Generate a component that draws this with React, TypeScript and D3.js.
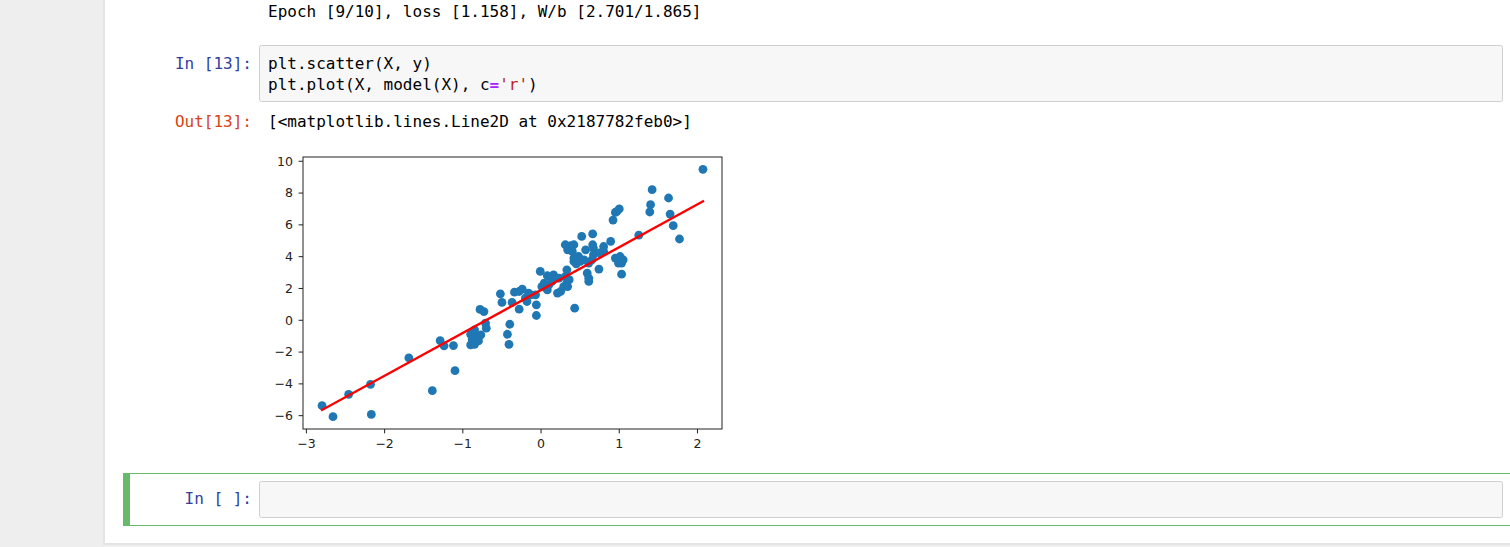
import React from "react";
import * as d3 from "d3";

// Scatter data (X, y)
const X_VALUES = [
  -2.80, -2.66, -2.46, -2.18, -2.17, -1.69, -1.39, -1.29, -1.24, -1.12, -1.10,
  -0.90, -0.88, -0.90, -0.85, -0.84, -0.79, -0.85, -0.80, -0.77, -0.78, -0.73, -0.71, -0.70,
  -0.52, -0.50, -0.40, -0.43, -0.41, -0.34, -0.28, -0.24, -0.37, -0.28, -0.20, -0.16, -0.13,
  -0.07, -0.06, -0.06, -0.18, -0.01, 0.01, 0.04, 0.08, 0.08, 0.10, 0.14, 0.16, 0.14, 0.21,
  0.23, 0.25, 0.29, 0.31, 0.33, 0.36, 0.33, 0.34, 0.43, 0.31, 0.38, 0.42, 0.34, 0.40, 0.42,
  0.48, 0.50, 0.42, 0.55, 0.45, 0.52, 0.66, 0.57, 0.66, 0.67, 0.67, 0.65, 0.61, 0.59, 0.61,
  0.61, 0.74, 0.80, 0.89, 0.80, 0.75, 0.92, 0.95, 0.97, 1.00, 0.95, 1.01, 1.05, 1.03, 0.99,
  1.03, 1.25, 1.39, 1.40, 1.42, 1.63, 1.65, 1.69, 1.77, 2.07,
];
const Y_VALUES = [
  -5.37, -6.06, -4.66, -4.03, -5.92, -2.37, -4.43, -1.28, -1.61, -1.59, -3.17,
  -0.88, -1.20, -1.55, -1.51, -1.05, -0.98, -0.60, -1.30, -0.92, 0.68, 0.55, -0.18, -0.50,
  1.66, 1.12, -0.25, -0.88, -1.51, 1.77, 1.81, 1.96, 1.12, 0.70, 1.39, 1.71, 1.60,
  1.60, 0.97, 0.30, 1.18, 3.07, 2.12, 2.34, 1.91, 2.80, 2.23, 2.65, 2.86, 2.44, 1.71,
  2.65, 1.81, 2.12, 2.75, 2.34, 2.55, 3.17, 2.12, 0.76, 4.75, 4.69, 4.75, 4.43, 4.33, 3.91,
  4.01, 3.70, 3.70, 3.80, 3.55, 5.27, 5.43, 4.43, 4.75, 4.54, 4.12, 3.80, 3.60, 2.97, 2.65,
  2.44, 3.22, 4.64, 4.96, 4.33, 4.23, 6.30, 6.78, 6.85, 7.00, 3.91, 4.01, 3.80, 3.60, 3.60,
  2.90, 5.35, 6.81, 7.27, 8.21, 7.69, 6.68, 5.95, 5.11, 9.49,
];

// Fitted line model(X)
const LINE_X = [-2.80, 2.07];
const LINE_Y = [-5.64, 7.48];

const X_TICKS = [-3, -2, -1, 0, 1, 2];
const Y_TICKS = [-6, -4, -2, 0, 2, 4, 6, 8, 10];

const MONO = "'DejaVu Sans Mono', monospace";
const SANS = "'DejaVu Sans', sans-serif";

function pad(ext: [number, number]): [number, number] {
  const r = ext[1] - ext[0];
  return [ext[0] - 0.05 * r, ext[1] + 0.05 * r];
}

export default function App() {
  const left = 303, right = 722, top = 157, bottom = 429;
  const xDom = pad(d3.extent(X_VALUES) as [number, number]);
  const yDom = pad(d3.extent(Y_VALUES) as [number, number]);
  const x = d3.scaleLinear().domain(xDom).range([left, right]);
  const y = d3.scaleLinear().domain(yDom).range([bottom, top]);
  const fmt = (v: number) => d3.format("d")(v).replace("-", "\u2212");
  const line = d3
    .line<number>()
    .x((_, i) => x(LINE_X[i]))
    .y((_, i) => y(LINE_Y[i]));

  return (
    <svg
      width={1510}
      height={547}
      style={{ position: "absolute", left: 0, top: 0 }}
    >
      <rect x={0} y={0} width={1510} height={547} fill="#eeeeee" />
      <rect x={103} y={0} width={1410} height={545} fill="#e4e4e4" />
      <rect x={105} y={0} width={1410} height={543} fill="#ffffff" />

      {/* Previous output */}
      <text x={268} y={17} fontFamily={MONO} fontSize={16} fill="#000">
        Epoch [9/10], loss [1.158], W/b [2.701/1.865]
      </text>

      {/* In [13] */}
      <text x={252} y={69} textAnchor="end" fontFamily={MONO} fontSize={16} fill="#303F9F">
        In [13]:
      </text>
      <rect x={259.5} y={45.5} width={1243} height={56} rx={2} fill="#f7f7f7" stroke="#cfcfcf" />
      <text x={268} y={69} fontFamily={MONO} fontSize={16} fill="#000">
        plt.scatter(X, y)
      </text>
      <text x={268} y={90} fontFamily={MONO} fontSize={16} fill="#000">
        plt.plot(X, model(X), c<tspan fill="#AA22FF" fontWeight="bold">=</tspan>
        <tspan fill="#BA2121">'r'</tspan>)
      </text>

      {/* Out [13] */}
      <text x={252} y={127} textAnchor="end" fontFamily={MONO} fontSize={16} fill="#D84315">
        Out[13]:
      </text>
      <text x={268} y={127} fontFamily={MONO} fontSize={16} fill="#000">
        [&lt;matplotlib.lines.Line2D at 0x2187782feb0&gt;]
      </text>

      {/* Chart */}
      <g>
        <defs>
          <clipPath id="axclip">
            <rect x={left} y={top} width={right - left} height={bottom - top} />
          </clipPath>
        </defs>
        <g clipPath="url(#axclip)">
          {X_VALUES.map((xv, i) => (
            <circle key={i} cx={x(xv)} cy={y(Y_VALUES[i])} r={4.4} fill="#1f77b4" />
          ))}
          <path d={line(LINE_X) || ""} fill="none" stroke="#ff0000" strokeWidth={2.4} strokeLinecap="square" />
        </g>
        <rect
          x={left}
          y={top}
          width={right - left}
          height={bottom - top}
          fill="none"
          stroke="#222"
          strokeWidth={1}
        />
        {X_TICKS.map((t) => (
          <g key={"x" + t}>
            <line x1={x(t)} x2={x(t)} y1={bottom} y2={bottom + 4.4} stroke="#222" />
            <text
              x={x(t)}
              y={bottom + 19}
              textAnchor="middle"
              fontFamily={SANS}
              fontSize={12.5}
              fill="#222"
            >
              {fmt(t)}
            </text>
          </g>
        ))}
        {Y_TICKS.map((t) => (
          <g key={"y" + t}>
            <line x1={left - 4.4} x2={left} y1={y(t)} y2={y(t)} stroke="#222" />
            <text
              x={left - 10}
              y={y(t) + 4.4}
              textAnchor="end"
              fontFamily={SANS}
              fontSize={12.5}
              fill="#222"
            >
              {fmt(t)}
            </text>
          </g>
        ))}
      </g>

      {/* Empty cell */}
      <rect x={123.5} y={473.5} width={1400} height={52} fill="#fff" stroke="#66BB6A" strokeWidth={1} />
      <rect x={123} y={473} width={7} height={53} fill="#66BB6A" />
      <text x={252} y={504} textAnchor="end" fontFamily={MONO} fontSize={16} fill="#303F9F">
        In [ ]:
      </text>
      <rect x={259.5} y={481.5} width={1243} height={36} rx={2} fill="#f7f7f7" stroke="#cfcfcf" />
    </svg>
  );
}
